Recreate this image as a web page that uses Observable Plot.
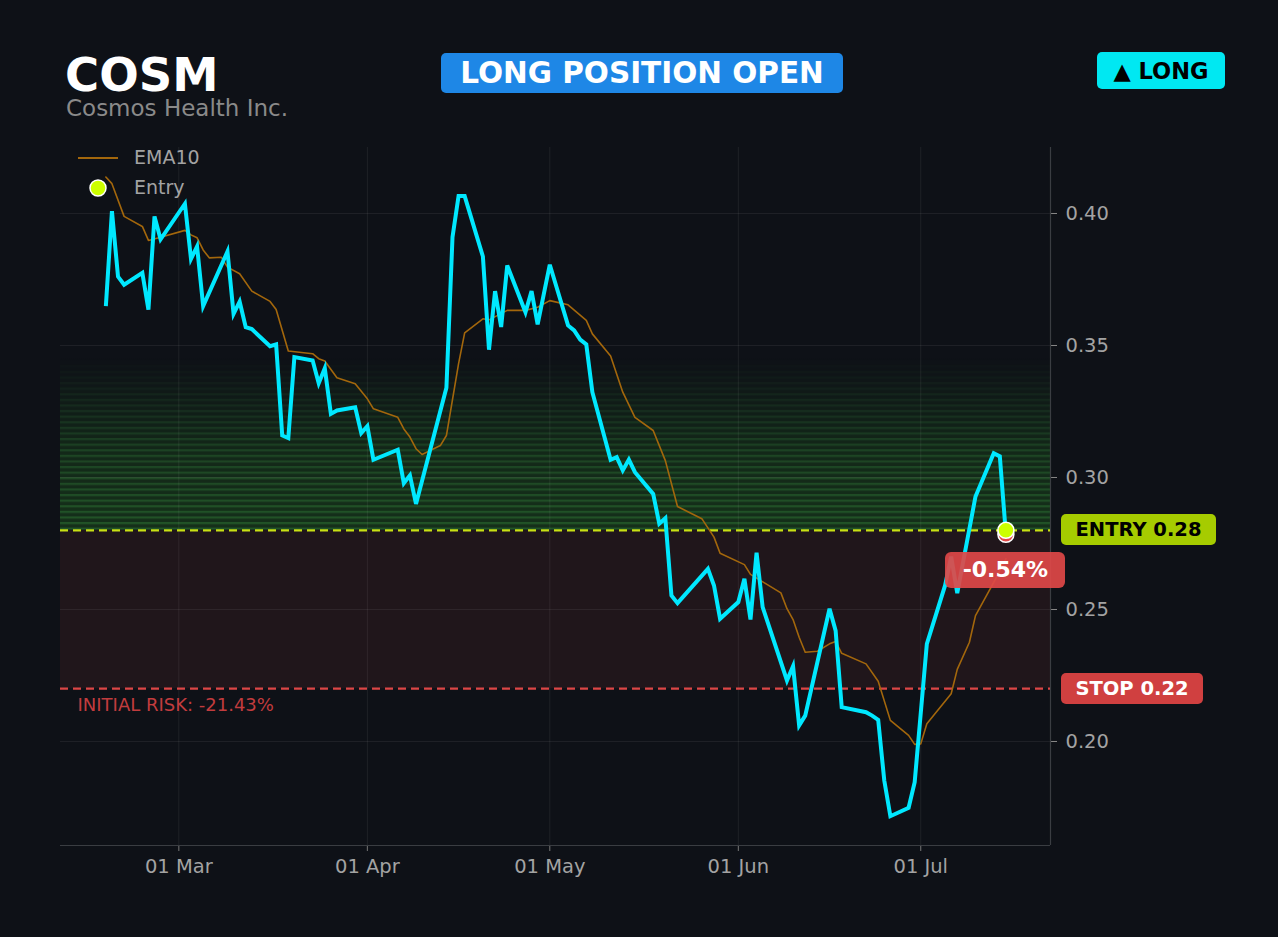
<!DOCTYPE html>
<html>
<head>
<meta charset="utf-8">
<script src="https://cdn.jsdelivr.net/npm/d3@7"></script>
<script src="https://cdn.jsdelivr.net/npm/@observablehq/plot@0.6"></script>
<style>
  html, body { margin: 0; padding: 0; background: #0e1117; }
  body { width: 1278px; height: 937px; overflow: hidden; font-family: "DejaVu Sans", sans-serif; }
  #wrap { position: relative; width: 1278px; height: 937px; }
  #header { position: relative; height: 130px; }
  .abs { position: absolute; white-space: nowrap; }
  .badge { position: absolute; display: flex; align-items: center; justify-content: center; font-weight: bold; border-radius: 5px; white-space: nowrap; }
</style>
</head>
<body>
<div id="wrap">
  <div id="header"></div>
  <div id="chart"></div>
</div>
<script>
// ---- data ----
const ticker = "COSM";
const companyName = "Cosmos Health Inc.";
const statusText = "LONG POSITION OPEN";
const sideText = "▲ LONG";
const entryPrice = 0.28;
const stopPrice = 0.22;
const lastPrice = 0.2785;
const pnlText = "-0.54%";
const riskText = "INITIAL RISK: -21.43%";

const priceDates = [
  "2025-02-17","2025-02-18","2025-02-19","2025-02-20","2025-02-23","2025-02-24","2025-02-25","2025-02-26",
  "2025-03-02","2025-03-03","2025-03-04","2025-03-05","2025-03-09","2025-03-10","2025-03-11","2025-03-12",
  "2025-03-13","2025-03-16","2025-03-17","2025-03-18","2025-03-19","2025-03-20","2025-03-23","2025-03-24",
  "2025-03-25","2025-03-26","2025-03-27","2025-03-30","2025-03-31","2025-04-01","2025-04-02","2025-04-06",
  "2025-04-07","2025-04-08","2025-04-09","2025-04-14","2025-04-15","2025-04-16","2025-04-17","2025-04-20",
  "2025-04-21","2025-04-22","2025-04-23","2025-04-24","2025-04-27","2025-04-28","2025-04-29","2025-05-01",
  "2025-05-04","2025-05-05","2025-05-06","2025-05-07","2025-05-08","2025-05-11","2025-05-12","2025-05-13",
  "2025-05-14","2025-05-15","2025-05-18","2025-05-19","2025-05-20","2025-05-21","2025-05-22","2025-05-27",
  "2025-05-28","2025-05-29","2025-06-01","2025-06-02","2025-06-03","2025-06-04","2025-06-05","2025-06-09",
  "2025-06-10","2025-06-11","2025-06-12","2025-06-16","2025-06-17","2025-06-18","2025-06-22","2025-06-23",
  "2025-06-24","2025-06-25","2025-06-26","2025-06-29","2025-06-30","2025-07-02","2025-07-05","2025-07-06",
  "2025-07-07","2025-07-10","2025-07-13","2025-07-14","2025-07-15"
];
const priceValues = [
  0.3649,0.4009,0.3761,0.3730,0.3775,0.3636,0.3989,0.3902,
  0.4037,0.3828,0.3875,0.3649,0.3856,0.3620,0.3666,0.3569,
  0.3562,0.3497,0.3504,0.3159,0.3149,0.3456,0.3443,0.3357,
  0.3414,0.3241,0.3254,0.3266,0.3168,0.3194,0.3067,0.3105,
  0.2978,0.3008,0.2900,0.3340,0.3910,0.4066,0.4066,0.3837,
  0.3484,0.3706,0.3570,0.3803,0.3626,0.3706,0.3580,0.3806,
  0.3576,0.3557,0.3522,0.3504,0.3323,0.3067,0.3077,0.3027,
  0.3068,0.3020,0.2938,0.2825,0.2846,0.2553,0.2524,0.2654,
  0.2591,0.2465,0.2528,0.2616,0.2462,0.2715,0.2509,0.2231,
  0.2285,0.2061,0.2098,0.2503,0.2420,0.2130,0.2111,0.2098,
  0.2082,0.1852,0.1717,0.1749,0.1846,0.2370,0.2591,0.2700,
  0.2562,0.2928,0.3092,0.3080,0.2785
];

const emaDates = [
  "2025-02-17","2025-02-18","2025-02-20","2025-02-23","2025-02-24","2025-02-26","2025-03-02","2025-03-03",
  "2025-03-04","2025-03-05","2025-03-06","2025-03-08","2025-03-09","2025-03-11","2025-03-13","2025-03-16",
  "2025-03-17","2025-03-19","2025-03-23","2025-03-24","2025-03-25","2025-03-27","2025-03-30","2025-04-01",
  "2025-04-02","2025-04-06","2025-04-07","2025-04-08","2025-04-09","2025-04-10","2025-04-13","2025-04-14",
  "2025-04-16","2025-04-17","2025-04-20","2025-04-21","2025-04-24","2025-04-27","2025-04-29","2025-05-01",
  "2025-05-04","2025-05-07","2025-05-08","2025-05-11","2025-05-13","2025-05-15","2025-05-18","2025-05-20",
  "2025-05-22","2025-05-26","2025-05-28","2025-05-29","2025-06-02","2025-06-03","2025-06-08","2025-06-09",
  "2025-06-10","2025-06-11","2025-06-12","2025-06-14","2025-06-16","2025-06-17","2025-06-18","2025-06-22",
  "2025-06-24","2025-06-26","2025-06-29","2025-06-30","2025-07-01","2025-07-02","2025-07-06","2025-07-07",
  "2025-07-09","2025-07-10","2025-07-13","2025-07-15"
];
const emaValues = [
  0.4138,0.4113,0.3989,0.3951,0.3898,0.3910,0.3936,0.3919,
  0.3908,0.3862,0.3832,0.3834,0.3797,0.3772,0.3706,0.3667,
  0.3636,0.3479,0.3469,0.3450,0.3441,0.3378,0.3355,0.3298,
  0.3260,0.3228,0.3184,0.3153,0.3109,0.3087,0.3121,0.3159,
  0.3431,0.3548,0.3601,0.3597,0.3633,0.3633,0.3645,0.3670,
  0.3654,0.3595,0.3544,0.3460,0.3323,0.3228,0.3178,0.3064,
  0.2890,0.2844,0.2774,0.2713,0.2670,0.2633,0.2563,0.2503,
  0.2462,0.2395,0.2338,0.2342,0.2370,0.2379,0.2334,0.2294,
  0.2228,0.2080,0.2023,0.1989,0.1991,0.2067,0.2181,0.2273,
  0.2376,0.2477,0.2603,0.2692
];

const yTicks = [0.20, 0.25, 0.30, 0.35, 0.40];
const xTicks = ["2025-03-01","2025-04-01","2025-05-01","2025-06-01","2025-07-01"];
const xDomain = ["2025-02-09T13:00","2025-07-22T08:00"];
const yDomain = [0.1606, 0.425];
const zoneTop = 0.345;

// ---- build ----
const parse = s => new Date(s);
const price = priceDates.map((d, i) => ({date: parse(d), value: priceValues[i]}));
const ema = emaDates.map((d, i) => ({date: parse(d), value: emaValues[i]}));
const x0 = parse(xDomain[0]), x1 = parse(xDomain[1]);
const lastDate = price[price.length - 1].date;

const HEADER = 130;
const font = "DejaVu Sans, sans-serif";

const plot = Plot.plot({
  width: 1278,
  height: 807,
  marginTop: 17,
  marginBottom: 92,
  marginLeft: 60,
  marginRight: 228,
  style: {background: "transparent", color: "#a3a3a3", fontSize: "19.5px", fontFamily: font, overflow: "visible"},
  x: {type: "time", domain: [x0, x1], label: null},
  y: {domain: yDomain, label: null},
  marks: [
    // risk zone
    Plot.rect([0], {x1: () => x0, x2: () => x1, y1: () => stopPrice, y2: () => entryPrice, fill: "#20161b"}),
    // profit stripes zone
    Plot.rect([0], {x1: () => x0, x2: () => x1, y1: () => entryPrice, y2: () => zoneTop, fill: "url(#stripes)"}),
    // grid
    Plot.gridX(xTicks.map(parse), {stroke: "#ffffff", strokeOpacity: 0.07, strokeWidth: 1}),
    Plot.gridY(yTicks, {stroke: "#ffffff", strokeOpacity: 0.07, strokeWidth: 1}),
    // axes
    Plot.axisX(xTicks.map(parse), {tickFormat: d3.utcFormat("%d %b"), tickSize: 6, tickPadding: 8, stroke: "#777", fill: "#a3a3a3", fontSize: 19.5, label: null}),
    Plot.axisY(yTicks, {anchor: "right", tickFormat: d3.format(".2f"), tickSize: 6, tickPadding: 9, stroke: "#888", fill: "#a3a3a3", fontSize: 19.5, label: null}),
    Plot.ruleY([yDomain[0]], {stroke: "#3a3d42", strokeWidth: 1.2}),
    Plot.ruleX([x1], {stroke: "#3a3d42", strokeWidth: 1.2}),
    // entry & stop lines
    Plot.ruleY([stopPrice], {stroke: "#dc4646", strokeWidth: 2.2, strokeDasharray: "8,5"}),
    Plot.ruleY([entryPrice], {stroke: "#c8e014", strokeWidth: 2.2, strokeDasharray: "8,5"}),
    Plot.text([riskText], {x: () => x0, y: () => stopPrice, text: d => d, dx: 17, dy: 17, textAnchor: "start", fill: "#c23c3e", fontSize: 18}),
    // EMA
    Plot.line(ema, {x: "date", y: "value", stroke: "#a3670c", strokeWidth: 1.6}),
    // price
    Plot.line(price, {x: "date", y: "value", stroke: "#00e8ff", strokeWidth: 4, strokeLinejoin: "miter", strokeMiterlimit: 4, strokeLinecap: "butt"}),
    // current & entry markers
    Plot.dot([lastPrice], {x: () => lastDate, y: d => d, r: 8, fill: "#e04848", stroke: "white", strokeWidth: 1.5}),
    Plot.dot([entryPrice], {x: () => lastDate, y: d => d, r: 8, fill: "#ccff00", stroke: "white", strokeWidth: 1.5})
  ]
});

// defs for the stripes zone (pattern faded by a mask)
const ns = "http://www.w3.org/2000/svg";
const defs = document.createElementNS(ns, "defs");
defs.innerHTML = `
  <pattern id="stripes" patternUnits="userSpaceOnUse" width="20" height="5.6">
    <rect x="0" y="0" width="20" height="5.6" fill="#15301a"/>
    <rect x="0" y="0" width="20" height="2.2" fill="#225528"/>
  </pattern>
  <mask id="zoneMask" maskUnits="userSpaceOnUse" x="0" y="0" width="1278" height="807">
    <rect x="0" y="0" width="1278" height="807" fill="url(#zoneFadeUS)"/>
  </mask>`;
plot.insertBefore(defs, plot.firstChild);
// user-space gradient for the mask, located by the y scale
const ysc = plot.scale("y");
const gUS = document.createElementNS(ns, "linearGradient");
gUS.setAttribute("id", "zoneFadeUS");
gUS.setAttribute("gradientUnits", "userSpaceOnUse");
gUS.setAttribute("x1", "0"); gUS.setAttribute("x2", "0");
gUS.setAttribute("y1", String(ysc.apply(entryPrice)));
gUS.setAttribute("y2", String(ysc.apply(zoneTop)));
gUS.innerHTML = `<stop offset="0" stop-color="#ffffff" stop-opacity="1"/>
  <stop offset="0.45" stop-color="#ffffff" stop-opacity="0.75"/>
  <stop offset="1" stop-color="#ffffff" stop-opacity="0"/>`;
defs.appendChild(gUS);
plot.querySelectorAll('[fill="url(#stripes)"]').forEach(el => el.setAttribute("mask", "url(#zoneMask)"));

document.getElementById("chart").appendChild(plot);

// ---- header & overlays ----
const wrap = document.getElementById("wrap");
const header = document.getElementById("header");
function add(parent, html, css, cls) {
  const el = document.createElement("div");
  el.className = cls || "abs";
  el.innerHTML = html;
  Object.assign(el.style, css);
  parent.appendChild(el);
  return el;
}
add(header, ticker, {left: "65px", top: "55px", fontSize: "46.5px", fontWeight: "bold", color: "#ffffff", lineHeight: "40px"});
add(header, companyName, {left: "66px", top: "97px", fontSize: "23px", color: "#8a8a8a", lineHeight: "22px"});
add(header, statusText, {left: "441px", top: "53px", width: "402px", height: "40px", background: "#1e87e6", color: "#ffffff", fontSize: "29.5px"}, "badge");
add(header, sideText, {left: "1097px", top: "52px", width: "128px", height: "37px", background: "#00e8f2", color: "#000000", fontSize: "22.5px"}, "badge");

const ys = plot.scale("y"), xs = plot.scale("x");
const yEntry = HEADER + ys.apply(entryPrice);
const yStop = HEADER + ys.apply(stopPrice);
const yLast = HEADER + ys.apply(lastPrice);
const xLast = xs.apply(lastDate);

add(wrap, "ENTRY 0.28", {left: "1061px", top: (yEntry - 15.5) + "px", width: "155px", height: "31px", background: "#a6cc00", color: "#000000", fontSize: "19.5px"}, "badge");
add(wrap, "STOP 0.22", {left: "1061px", top: (yStop - 15.5) + "px", width: "142px", height: "31px", background: "#d04040", color: "#ffffff", fontSize: "19.5px"}, "badge");
add(wrap, pnlText, {left: (xLast - 60) + "px", top: (yLast + 18) + "px", width: "120px", height: "36px", background: "rgba(222,72,72,0.92)", color: "#ffffff", fontSize: "22px", borderRadius: "6px"}, "badge");

// legend
const leg = add(wrap, "", {left: "70px", top: "140px", width: "160px", height: "64px"});
leg.innerHTML = `
  <svg width="160" height="64" style="position:absolute;left:0;top:0">
    <line x1="8" y1="18" x2="48" y2="18" stroke="#a3670c" stroke-width="2"/>
    <circle cx="28" cy="48" r="8" fill="#ccff00" stroke="white" stroke-width="1.5"/>
  </svg>
  <div class="abs" style="left:64px;top:6px;font-size:19px;color:#a3a3a3">EMA10</div>
  <div class="abs" style="left:64px;top:36px;font-size:19px;color:#a3a3a3">Entry</div>`;
</script>
</body>
</html>
